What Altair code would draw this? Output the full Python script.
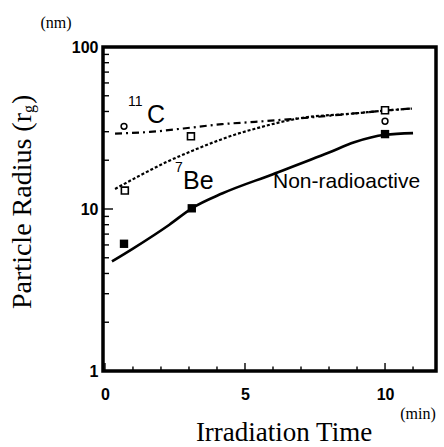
import altair as alt
import pandas as pd

# ---- measured points ----
nr_t = [0.68, 3.1, 10.0]
nr_r = [6.1, 10.1, 29.0]
be_t = [0.71, 3.07, 10.0]
be_r = [13.0, 28.1, 40.7]
c_t = [0.68, 10.0]
c_r = [32.4, 34.8]

# ---- fitted curves ----
nr_fit_t = [0.25, 1.0, 2.3, 3.1, 4.2, 6.0, 8.0, 8.9, 10.0, 11.0]
nr_fit_r = [4.75, 5.7, 8.0, 10.1, 12.5, 16.4, 22.3, 25.8, 28.7, 29.4]
be_fit_t = [0.36, 1.25, 2.2, 3.15, 4.18, 4.7, 5.36, 6.9, 8.9, 10.0, 10.96]
be_fit_r = [13.3, 16.1, 19.5, 23.0, 27.0, 29.0, 31.3, 36.2, 38.9, 40.5, 41.7]
c_fit_t = [0.36, 1.6, 2.8, 4.18, 5.36, 6.9, 8.9, 10.0, 10.96]
c_fit_r = [29.2, 29.9, 31.4, 33.4, 34.5, 36.2, 38.9, 40.5, 41.7]

# ---- ticks ----
x_major = [0, 5, 10]
x_minor = [1, 2, 3, 4, 6, 7, 8, 9, 11]
y_major = [1, 10, 100]
y_minor = [2, 3, 4, 5, 6, 7, 8, 9, 20, 30, 40, 50, 60, 70, 80, 90]

W, H = 333, 324
SANS = "Liberation Sans"
SERIF = "Liberation Serif"

xs = alt.Scale(domain=[-0.07, 11.82], nice=False, zero=False)
ys = alt.Scale(type="log", domain=[1, 100], nice=False)

def df(t, r):
    return pd.DataFrame({"t": t, "r": r})

X = alt.X("t:Q", scale=xs, axis=alt.Axis(values=x_major, title="", ticks=False, domain=False, grid=False,
                                          labelFont=SANS, labelFontSize=16, labelFontWeight="bold",
                                          labelColor="black", labelPadding=15))
Y = alt.Y("r:Q", scale=ys, axis=alt.Axis(values=y_major, title="", ticks=False, domain=False, grid=False,
                                         labelFont=SANS, labelFontSize=16, labelFontWeight="bold",
                                         labelColor="black", labelPadding=5))

nr_line = alt.Chart(df(nr_fit_t, nr_fit_r)).mark_line(color="black", strokeWidth=2.6, interpolate="monotone").encode(
    x=X, y=Y)
be_line = alt.Chart(df(be_fit_t, be_fit_r)).mark_line(color="black", strokeWidth=2.2, strokeDash=[3, 2],
                                                     interpolate="monotone").encode(x=X, y=Y)
c_line = alt.Chart(df(c_fit_t, c_fit_r)).mark_line(color="black", strokeWidth=2.2, strokeDash=[7, 4, 2, 4],
                                                  interpolate="monotone").encode(x=X, y=Y)

nr_pts = alt.Chart(df(nr_t, nr_r)).mark_point(shape="square", filled=True, color="black", size=70, opacity=1).encode(
    x=X, y=Y)
be_pts = alt.Chart(df(be_t, be_r)).mark_point(shape="square", filled=True, fill="white", stroke="black",
                                              strokeWidth=1.6, size=48, opacity=1).encode(x=X, y=Y)
c_pts = alt.Chart(df(c_t, c_r)).mark_point(shape="circle", filled=True, fill="white", stroke="black",
                                           strokeWidth=1.5, size=34, opacity=1).encode(x=X, y=Y)

# ---- inner ticks: short stroked paths hugging the frame ----
def xticks(vals, size):
    return alt.Chart(pd.DataFrame({"t": vals})).mark_point(
        shape="M0,0L0,-2", size=size, filled=False, stroke="black", strokeWidth=1.4, opacity=1).encode(
        x=X, y=alt.value(H))

def yticks(vals, size):
    return alt.Chart(pd.DataFrame({"r": vals})).mark_point(
        shape="M0,0L2,0", size=size, filled=False, stroke="black", strokeWidth=1.4, opacity=1).encode(
        y=Y, x=alt.value(0))

def label(text, t, r, size, font=SANS):
    return alt.Chart(pd.DataFrame({"t": [t], "r": [r], "s": [text]})).mark_text(
        align="left", baseline="alphabetic", fontSize=size, font=font, color="black").encode(
        x=X, y=Y, text="s:N")

def ptext(text, x, y, size, align="center", baseline="middle", angle=0):
    kw = dict(align=align, baseline=baseline, fontSize=size, font=SERIF, color="black")
    if angle:
        kw["angle"] = angle
    return alt.Chart(pd.DataFrame({"s": [text]})).mark_text(**kw).encode(
        x=alt.value(x), y=alt.value(y), text="s:N")

layers = [
    c_line, be_line, nr_line, c_pts, be_pts, nr_pts,
    label("11", 0.82, 43.5, 14), label("C", 1.5, 34.0, 25), label("7", 2.5, 16.9, 14),
    label("Be", 2.79, 13.3, 25), label("Non-radioactive", 6.0, 13.5, 21),
    ptext("Irradiation Time", 181, 386, 27),
    ptext("(min)", 315, 367, 16),
    ptext("(nm)", -47, -24, 16),
    ptext("Particle Radius  (r", -80, 66, 28, align="right", angle=270),
    ptext("g", -74, 66, 16, align="left", angle=270),
    ptext(")", -80, 57, 28, align="left", angle=270),
    xticks(x_major, 64), xticks(x_minor, 20), yticks(y_major, 100), yticks(y_minor, 36),
]

chart = alt.layer(*layers).properties(
    width=W, height=H,
    autosize=alt.AutoSizeParams(type="none"),
    padding={"left": 103, "top": 47, "right": 8, "bottom": 76},
    background="white",
).configure_view(stroke="black", strokeWidth=3.5)

chart.save("out.html", embed_options={"renderer": "svg", "actions": False})
